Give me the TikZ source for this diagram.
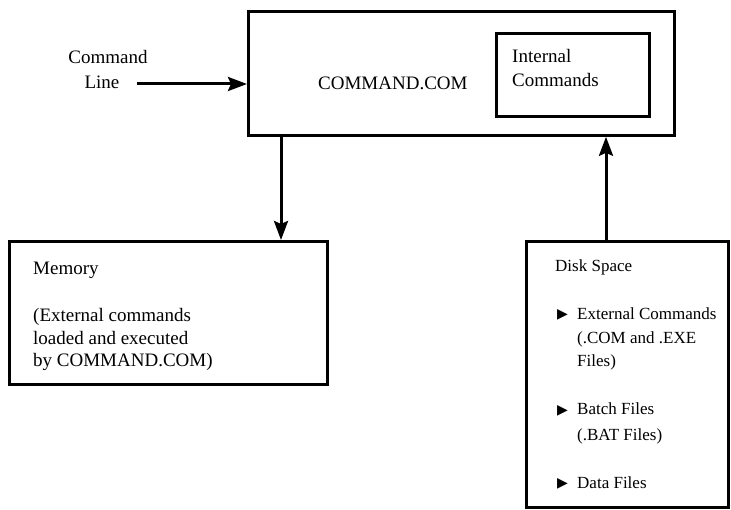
\documentclass[tikz,border=0pt]{standalone}
\usepackage{fontspec}
\setmainfont{Liberation Serif}
\newfontfamily\symfont{DejaVu Sans}
\usetikzlibrary{arrows.meta}
\begin{document}
\begin{tikzpicture}[x=1pt,y=-1pt,
  box/.style={draw, line width=2.8pt, inner sep=0pt, anchor=north west},
  txt/.style={anchor=base west, inner sep=0pt, font=\fontsize{19}{22.5}\selectfont},
  dtxt/.style={anchor=base west, inner sep=0pt, font=\fontsize{17}{20}\selectfont},
  arr/.style={line width=3pt, -{Stealth[length=19pt,width=14pt,inset=3pt]}},
  bul/.style={anchor=base west, inner sep=0pt, font=\symfont\fontsize{14}{16}\selectfont}]
\useasboundingbox (0,0) rectangle (731,510);
% boxes
\node[box, minimum width=426pt, minimum height=124pt] (main) at (247,10) {};
\node[box, minimum width=153pt, minimum height=83pt] (internal) at (495,32) {};
\node[box, minimum width=318pt, minimum height=143pt] (memory) at (8,240) {};
\node[box, minimum width=202pt, minimum height=266pt] (disk) at (525,240) {};
% command line
\node[txt, anchor=base] (cmd) at (108,64) {Command};
\node[txt, anchor=base] (line) at (102,89) {Line};
\coordinate (cl) at (137,84);
\draw[arr] (cl) -- (cl -| main.west);
% main texts
\node[txt] (cc) at (318,90) {COMMAND.COM};
\node[txt] (int1) at (512,63) {Internal};
\node[txt] (int2) at (512,87) {Commands};
% memory texts
\node[txt] (m1) at (33,275) {Memory};
\node[txt] (m2) at (33,322) {(External commands};
\node[txt] (m3) at (33,345) {loaded and executed};
\node[txt] (m4) at (33,367) {by COMMAND.COM)};
% disk texts
\node[dtxt] (d0) at (555,272) {Disk Space};
\node[bul] (b1) at (557,319) {▶};
\node[dtxt] (d1) at (577,320) {External Commands};
\node[dtxt] (d2) at (577,344) {(.COM and .EXE};
\node[dtxt] (d3) at (577,367) {Files)};
\node[bul] (b2) at (557,414) {▶};
\node[dtxt] (d4) at (577,415) {Batch Files};
\node[dtxt] (d5) at (577,440) {(.BAT Files)};
\node[bul] (b3) at (557,487) {▶};
\node[dtxt] (d6) at (577,488) {Data Files};
% vertical arrows
\coordinate (ax) at (281,0);
\draw[arr] (ax |- main.south) -- (ax |- memory.north);
\coordinate (bx) at (606,0);
\draw[arr] (bx |- disk.north) -- (bx |- main.south);
\end{tikzpicture}
\end{document}
